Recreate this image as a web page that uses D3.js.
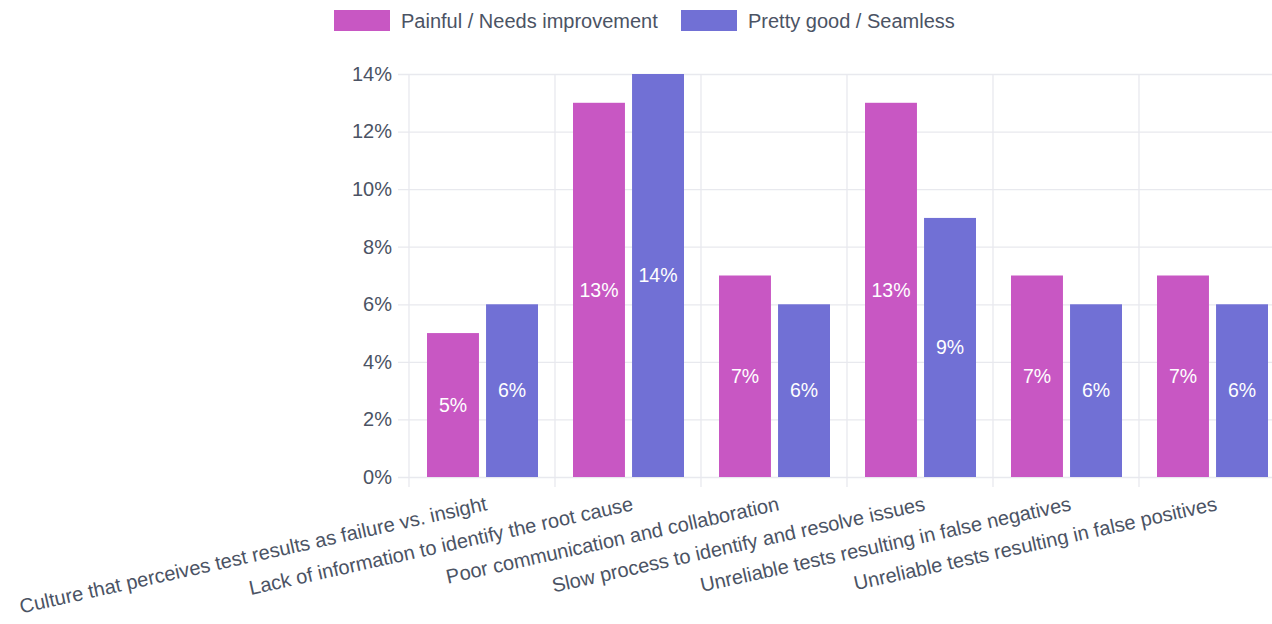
<!DOCTYPE html>
<html>
<head>
<meta charset="utf-8">
<script src="https://cdn.jsdelivr.net/npm/d3@7"></script>
<style>
  html, body { margin: 0; padding: 0; background: #fff; overflow: hidden; }
  svg { display: block; font-family: "Liberation Sans", Arial, Helvetica, sans-serif; }
</style>
</head>
<body>
<svg id="chart" width="1272" height="624"></svg>
<script>
// Survey responses, share of respondents (%)
const categories = [
  "Culture that perceives test results as failure vs. insight",
  "Lack of information to identify the root cause",
  "Poor communication and collaboration",
  "Slow process to identify and resolve issues",
  "Unreliable tests resulting in false negatives",
  "Unreliable tests resulting in false positives"
];
const seriesNames = ["Painful / Needs improvement", "Pretty good / Seamless"];
const painful = [5, 13, 7, 13, 7, 7];
const prettyGood = [6, 14, 6, 9, 6, 6];
const yTicks = [0, 2, 4, 6, 8, 10, 12, 14];

const colors = ["#c857c3", "#7170d5"];
const textColor = "#4b5364";
const gridColor = "#e8e9ee";

const svg = d3.select("#chart");
const margin = { left: 409, right: -13, top: 74, bottom: 147 };
const W = 1272, H = 624;
const innerW = W - margin.left - margin.right;
const innerH = H - margin.top - margin.bottom;

const g = svg.append("g").attr("transform", `translate(${margin.left},${margin.top})`);

const x0 = d3.scaleBand().domain(categories).range([0, innerW]).paddingInner(0).paddingOuter(0);
const x1 = d3.scaleBand().domain(seriesNames).range([18, x0.bandwidth() - 17]).paddingInner(0.12);
const y = d3.scaleLinear().domain([0, 14]).range([innerH, 0]);

// horizontal grid + y tick labels
const yAxis = d3.axisLeft(y).tickValues(yTicks).tickSize(-innerW - 11).tickFormat(d => d + "%").tickPadding(6);
const yg = g.append("g").attr("transform", "translate(-11,0)").call(yAxis);
yg.select(".domain").remove();
yg.selectAll(".tick line").attr("stroke", gridColor).attr("stroke-width", 1.3);
yg.selectAll(".tick text").attr("fill", textColor).attr("font-size", 20).attr("x", -6);

// vertical grid at band boundaries
const bounds = categories.map(c => x0(c)).concat([innerW]);
g.append("g").selectAll("line").data(bounds).join("line")
  .attr("x1", d => d).attr("x2", d => d)
  .attr("y1", 0).attr("y2", innerH + 10)
  .attr("stroke", gridColor).attr("stroke-width", 1.3);

// bars
const rows = categories.map((c, i) => ({ cat: c, vals: [painful[i], prettyGood[i]] }));
const groups = g.append("g").selectAll("g").data(rows).join("g")
  .attr("transform", d => `translate(${x0(d.cat)},0)`);

groups.selectAll("rect").data(d => d.vals.map((v, k) => ({ v, k })))
  .join("rect")
  .attr("x", d => x1(seriesNames[d.k]))
  .attr("width", x1.bandwidth())
  .attr("y", d => y(d.v))
  .attr("height", d => innerH - y(d.v))
  .attr("fill", d => colors[d.k]);

groups.selectAll("text").data(d => d.vals.map((v, k) => ({ v, k })))
  .join("text")
  .attr("x", d => x1(seriesNames[d.k]) + x1.bandwidth() / 2)
  .attr("y", d => (y(d.v) + innerH) / 2)
  .attr("dy", "0.35em")
  .attr("text-anchor", "middle")
  .attr("fill", "#ffffff")
  .attr("font-size", 19.5)
  .text(d => d.v + "%");

// rotated category labels
g.append("g").selectAll("text").data(categories).join("text")
  .attr("transform", d => `translate(${x0(d) + x0.bandwidth() / 2 + 6},${innerH + 33}) rotate(-12.5)`)
  .attr("text-anchor", "end")
  .attr("fill", textColor)
  .attr("font-size", 20)
  .text(d => d);

// legend
const legend = svg.append("g");
const legendX = [334, 681];
seriesNames.forEach((name, k) => {
  const lg = legend.append("g").attr("transform", `translate(${legendX[k]},10)`);
  lg.append("rect").attr("width", 56).attr("height", 21).attr("fill", colors[k]);
  lg.append("text").attr("x", 67).attr("y", 10.5).attr("dy", "0.35em")
    .attr("fill", textColor).attr("font-size", 20).text(name);
});
</script>
</body>
</html>
